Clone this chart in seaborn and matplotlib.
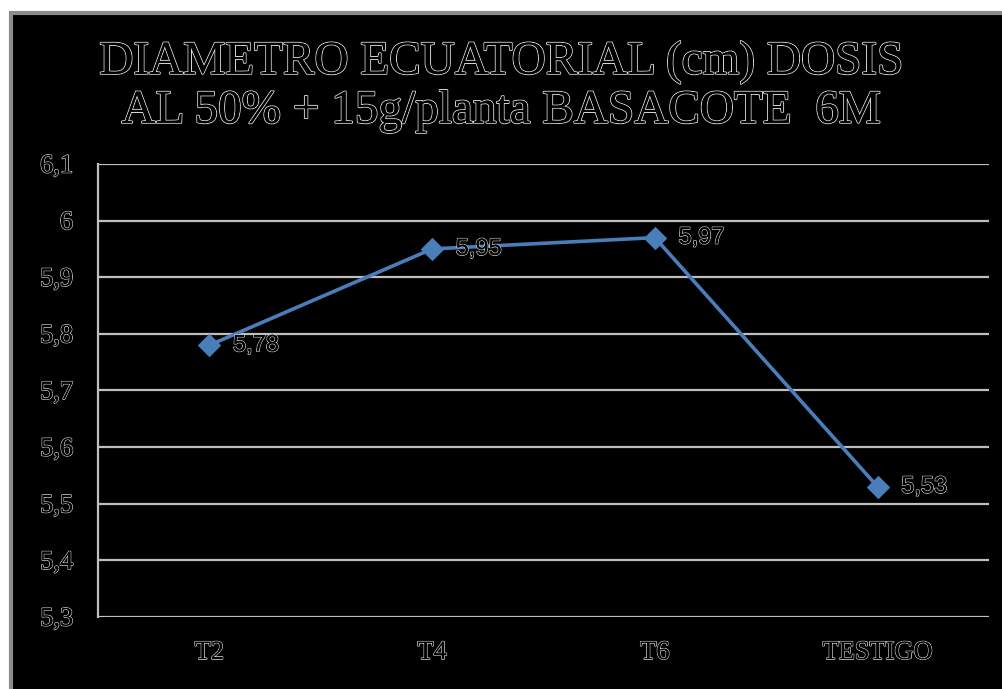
import matplotlib
matplotlib.use("Agg")
import matplotlib.pyplot as plt
import matplotlib.patheffects as pe
from matplotlib.patches import Rectangle
import seaborn as sns
import pandas as pd

# data
tratamientos = ["T2", "T4", "T6", "TESTIGO"]
diametro = [5.78, 5.95, 5.97, 5.53]
etiquetas = ["5,78", "5,95", "5,97", "5,53"]
yticks = [5.3, 5.4, 5.5, 5.6, 5.7, 5.8, 5.9, 6.0, 6.1]
ytick_labels = ["5,3", "5,4", "5,5", "5,6", "5,7", "5,8", "5,9", "6", "6,1"]
titulo = "DIAMETRO ECUATORIAL (cm) DOSIS\nAL 50% + 15g/planta BASACOTE  6M"

sns.set_style("white")
plt.rcParams["font.family"] = ["Liberation Serif", "DejaVu Serif"]

# "engraved" text look: black fill, light grey outline
outline = [pe.withStroke(linewidth=1.1, foreground="#d4d4d4"), pe.Normal()]
outline_title = [pe.withStroke(linewidth=1.4, foreground="#dcdcdc"), pe.Normal()]

fig = plt.figure(figsize=(10.03, 6.89), dpi=100)
fig.patch.set_facecolor("white")
# black chart area with grey frame
fig.patches.append(Rectangle((11 / 1003, -0.05), 1.1, 1 - 13 / 689 + 0.05,
                             transform=fig.transFigure, facecolor="black",
                             edgecolor="#8c8c8c", linewidth=3, zorder=-10))

ax = fig.add_axes([98 / 1003, 1 - 617 / 689, (989 - 98) / 1003, (617 - 164) / 689])
ax.set_facecolor("black")
ax.set_zorder(1)

df = pd.DataFrame({"trat": tratamientos, "diam": diametro})
sns.lineplot(data=df, x="trat", y="diam", ax=ax, color="#4A7EBB", linewidth=2.6,
             marker="D", markersize=11, markeredgecolor="#4A7EBB", sort=False, zorder=3)

for i, (v, t) in enumerate(zip(diametro, etiquetas)):
    ax.annotate(t, (i, v), xytext=(17, 0), textcoords="offset points",
                ha="left", va="center", fontsize=17, color="black",
                family=["Liberation Sans", "DejaVu Sans"],
                path_effects=outline, zorder=4)

ax.set_xlim(-0.5, 3.5)
ax.set_ylim(5.3, 6.1)
ax.set_yticks(yticks)
ax.set_yticklabels(ytick_labels)
ax.set_xticks(range(len(tratamientos)))
ax.set_xticklabels(tratamientos)
ax.set_xlabel("")
ax.set_ylabel("")

for y in yticks:
    ax.axhline(y, color="#bfbfbf", linewidth=1.6, zorder=1)

for s in ["top", "right", "bottom"]:
    ax.spines[s].set_visible(False)
ax.spines["left"].set_color("#bfbfbf")
ax.spines["left"].set_linewidth(1.6)

ax.tick_params(axis="y", length=0, pad=18, labelsize=19, labelcolor="black")
ax.tick_params(axis="x", length=0, pad=18, labelsize=19, labelcolor="black")
for lab in ax.get_xticklabels() + ax.get_yticklabels():
    lab.set_path_effects(outline)

fig.text(0.5, 1 - 87 / 689, titulo, ha="center", va="center", fontsize=34,
         color="black", linespacing=1.2, path_effects=outline_title)

fig.savefig("out.png", dpi=100, facecolor=fig.get_facecolor())
